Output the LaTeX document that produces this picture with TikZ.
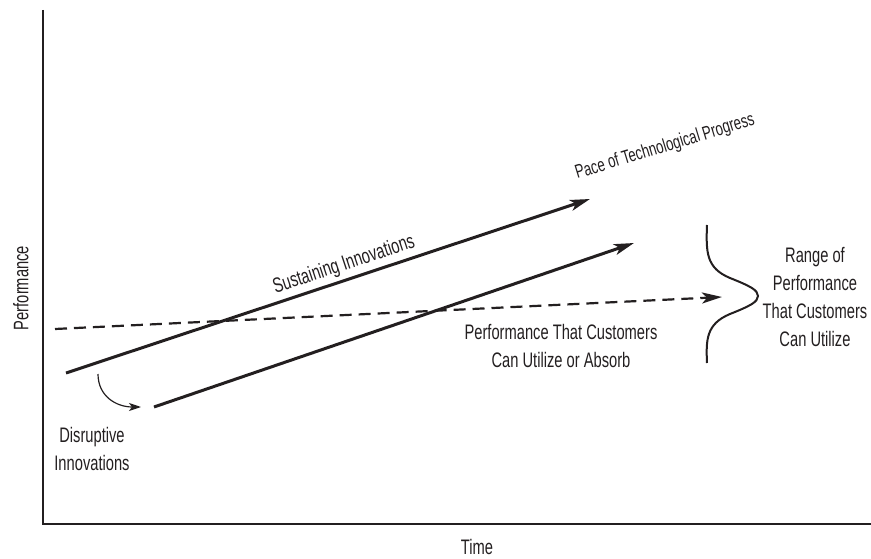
\documentclass[tikz,border=0pt]{standalone}
\usepackage{fontspec}
\setmainfont[FakeStretch=0.70]{Liberation Sans}
\usetikzlibrary{arrows.meta}
\definecolor{ink}{HTML}{231F20}
\begin{document}
\begin{tikzpicture}[x=1pt,y=-1pt,
  lbl/.style={font=\fontsize{21}{28}\selectfont, text=ink, inner sep=0pt, align=center},
  trend/.style={draw=ink, line width=3pt, -{Stealth[length=20pt,width=11pt,inset=5pt]}},
  need/.style={draw=ink, line width=2.2pt, dash pattern=on 12pt off 7pt, -{Stealth[length=20pt,width=11pt,inset=5pt]}},
  jump/.style={draw=ink, line width=1.2pt, -{Stealth[length=12pt,width=8pt,inset=3pt]}},
  axis/.style={draw=ink, line width=1.6pt},
  brace/.style={draw=ink, line width=2pt}]
\useasboundingbox (0,0) rectangle (871,559);
% axes
\coordinate (ytop) at (43,10);
\coordinate (orig) at (43,524);
\coordinate (xend) at (871,524);
\draw[axis] (ytop) -- (orig) -- (xend);
\node[lbl, rotate=90] (perf) at (21,288) {Performance};
\node[lbl] (time) at (477,547) {Time};
% trend lines
\coordinate (s0) at (66,373);
\coordinate (s1) at (590,199);
\coordinate (d0) at (154,407);
\coordinate (d1) at (634,243);
\coordinate (c0) at (55,329);
\coordinate (c1) at (722,297);
\draw[trend] (s0) -- (s1);
\draw[trend] (d0) -- (d1);
\draw[need] (c0) -- (c1);
% disruptive jump
\coordinate (j0) at (98,374);
\coordinate (j1) at (141,407);
\draw[jump] (j0) .. controls (98,396) and (116,407) .. (j1);
% brace
\coordinate (b0) at (707,225);
\coordinate (b1) at (707,363);
\draw[brace] (b0) .. controls (706,252) and (706,268) .. (730,278)
  .. controls (750,286) and (758,290) .. (758,296)
  .. controls (758,302) and (750,306) .. (730,314)
  .. controls (706,324) and (706,340) .. (b1);
% labels
\node[lbl, rotate=18.4] (sust) at (344,265) {Sustaining Innovations};
\node[lbl, rotate=17, font=\fontsize{19}{26}\selectfont] (pace) at (665,147) {Pace of Technological Progress};
\node[lbl] (cust) at (561,346) {Performance That Customers\\Can Utilize or Absorb};
\node[lbl] (range) at (815,297) {Range of\\Performance\\That Customers\\Can Utilize};
\node[lbl] (disr) at (92,449) {Disruptive\\Innovations};
\end{tikzpicture}
\end{document}
